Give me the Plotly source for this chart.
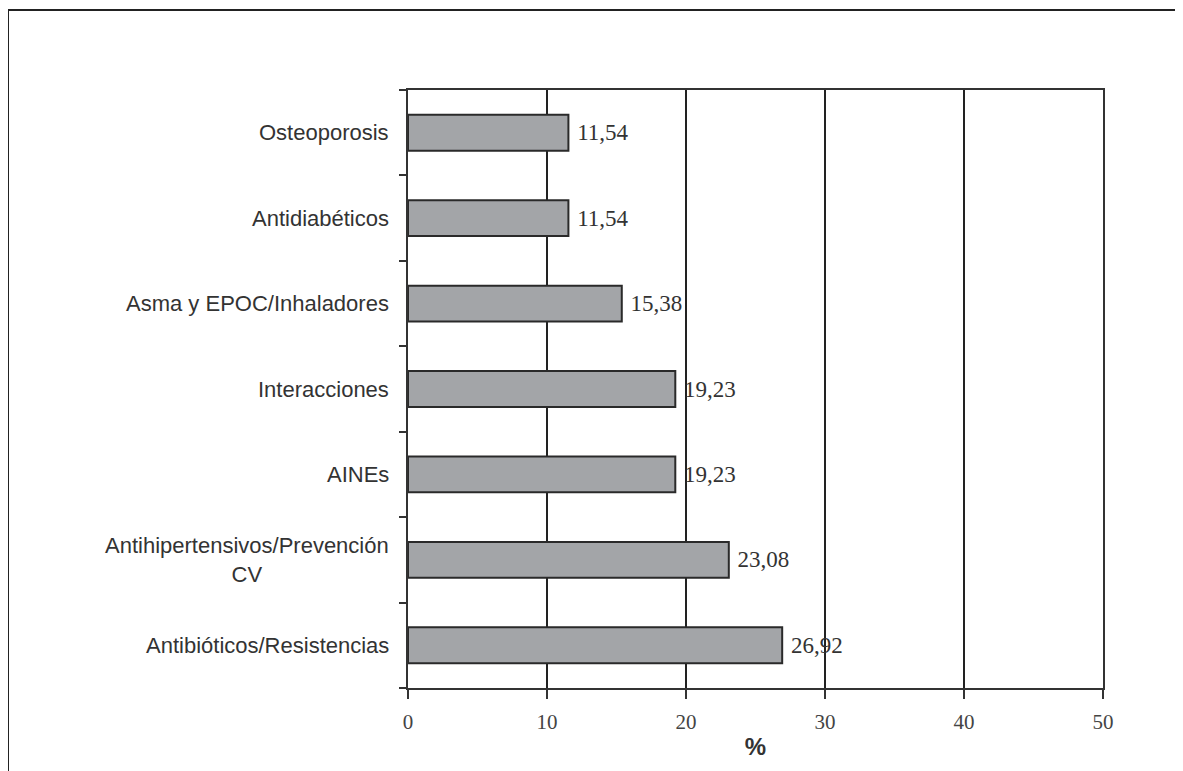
import plotly.graph_objects as go

categories = [
    "Antibióticos/Resistencias",
    "Antihipertensivos/Prevención<br>CV",
    "AINEs",
    "Interacciones",
    "Asma y EPOC/Inhaladores",
    "Antidiabéticos",
    "Osteoporosis",
]
values = [26.92, 23.08, 19.23, 19.23, 15.38, 11.54, 11.54]
x_ticks = [0, 10, 20, 30, 40, 50]

W, H = 1183, 771
OFF = 8  # page body margin
L, T = 408 - OFF, 90 - OFF
pw, ph = 695, 598
R, B = W - L - pw, H - T - ph

def px_x(p):
    return (p - OFF - L) / pw

def px_y(p):
    return (T + ph - (p - OFF)) / ph

fig = go.Figure()
fig.add_trace(go.Bar(
    y=categories, x=values, orientation="h", width=0.42,
    marker=dict(color="#a3a5a8", line=dict(color="#2a2a2a", width=2)),
    texttemplate=" %{x:.2f}", textposition="outside", cliponaxis=False,
    textfont=dict(family="Liberation Serif", size=23, color="#333333"),
    hoverinfo="skip",
))

for c in categories:
    fig.add_annotation(
        x=0, xref="paper", y=c, yref="y", xanchor="right", yanchor="middle",
        xshift=-17, text=c, showarrow=False, align="center",
        font=dict(family="Liberation Sans", size=22, color="#333333"),
    )

# outer frame (top and left edges)
fig.add_shape(type="line", xref="paper", yref="paper",
              x0=px_x(8), x1=1.3, y0=px_y(10), y1=px_y(10),
              line=dict(color="#222222", width=2))
fig.add_shape(type="line", xref="paper", yref="paper",
              x0=px_x(8), x1=px_x(8), y0=px_y(10), y1=-0.4,
              line=dict(color="#222222", width=2))

fig.update_layout(
    width=W, height=H,
    margin=dict(l=L, r=R, t=T, b=B),
    paper_bgcolor="white", plot_bgcolor="white",
    separators=",.",
    showlegend=False,
    xaxis=dict(
        range=[0, 50], tickvals=x_ticks, ticktext=[str(t) for t in x_ticks],
        showgrid=True, gridcolor="#222222", gridwidth=1.5,
        showline=True, linecolor="#333333", linewidth=1.5, mirror=True,
        ticks="outside", ticklen=9, tickcolor="#333333", tickwidth=1.5,
        tickfont=dict(family="Liberation Serif", size=21, color="#444444"),
        ticklabelstandoff=5,
        zeroline=False,
        title=dict(text="<b>%</b>", standoff=5,
                   font=dict(family="Liberation Sans", size=24, color="#333333")),
        fixedrange=True,
    ),
    yaxis=dict(
        type="category", categoryorder="array", categoryarray=categories,
        showticklabels=False, tickson="boundaries",
        ticks="outside", ticklen=7, tickcolor="#333333", tickwidth=1.5,
        showline=True, linecolor="#333333", linewidth=1.5, mirror=True,
        showgrid=False, zeroline=False, fixedrange=True,
    ),
)

fig.write_html("out.html")
